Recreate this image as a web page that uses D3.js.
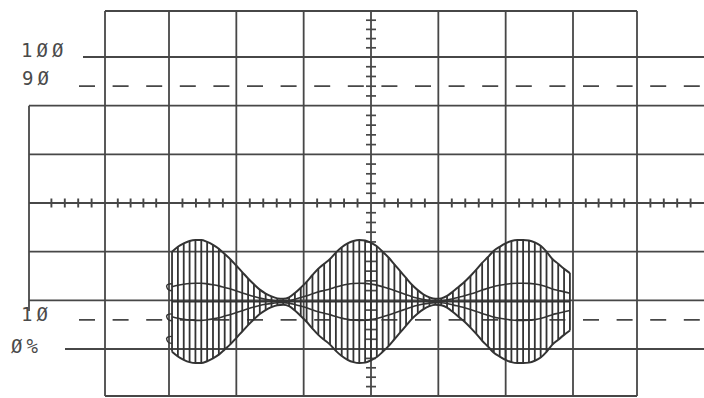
<!DOCTYPE html>
<html>
<head>
<meta charset="utf-8">
<script src="https://cdn.jsdelivr.net/npm/d3@7"></script>
<style>
  html, body { margin: 0; padding: 0; background: #ffffff; }
  svg { display: block; }
</style>
</head>
<body>
<svg id="chart" width="704" height="398"></svg>
<script>
// ---------------- data ----------------
// graticule: 8 x 8 divisions
const gridDivisionsX = [0, 1, 2, 3, 4, 5, 6, 7, 8];
const gridDivisionsY = [0, 1, 2, 3, 4, 5, 6, 7, 8];
// rise-time reference levels (percent of 6 divisions, 0% at division 1)
const levelLabels = ["1ØØ", "9Ø", "1Ø", "Ø%"];
const levelPercents = [100, 90, 10, 0];
const dashedPercents = [90, 10];
// AM trace: envelope half-amplitude (divisions) at each carrier stroke
const carrierStart = 1.045;   // division where the trace starts
const carrierStep = 0.0869;   // divisions between carrier strokes
const traceCenter = 1.97;     // vertical centre of the trace (divisions)
const innerFraction = 0.3;    // inner trace contour fraction
const envelopeAmp = [
  1.03, 1.13, 1.20, 1.25, 1.27, 1.27, 1.23, 1.17, 1.09, 0.98,
  0.87, 0.74, 0.61, 0.48, 0.36, 0.25, 0.17, 0.11, 0.07, 0.06,
  0.09, 0.18, 0.29, 0.41, 0.55, 0.68, 0.78, 0.88, 1.01, 1.12,
  1.20, 1.25, 1.27, 1.26, 1.21, 1.14, 1.03, 0.91, 0.77, 0.63,
  0.49, 0.35, 0.24, 0.15, 0.09, 0.06, 0.07, 0.12, 0.21, 0.31,
  0.41, 0.53, 0.66, 0.80, 0.92, 1.05, 1.13, 1.20, 1.25, 1.27,
  1.27, 1.26, 1.22, 1.15, 1.03, 0.88, 0.78, 0.68, 0.59
];

// ---------------- scales ----------------
const svg = d3.select("#chart");
const x = d3.scaleLinear().domain([0, 1, 7, 8]).range([105, 169, 573, 637]);
const y = d3.scaleLinear().domain([0, 1, 7, 8]).range([396, 349, 57, 11]);
const pct = p => 1 + p / 100 * 6;   // percent -> divisions

const ink = "#474747";
const lw = 1.8;
const g = svg.append("g");

// horizontal graticule lines
const hStart = d => {
  if (d === 0 || d === 8) return x(0);
  if (d === 7) return 83;
  if (d === 1) return 65;
  return 29;
};
const hEnd = d => (d === 0 || d === 8) ? x(8) : 704;
g.selectAll("line.h").data(gridDivisionsY).join("line")
  .attr("class", "h")
  .attr("x1", d => hStart(d)).attr("x2", d => hEnd(d))
  .attr("y1", d => y(d)).attr("y2", d => y(d))
  .attr("stroke", ink).attr("stroke-width", lw);

// vertical graticule lines
g.selectAll("line.v").data(gridDivisionsX).join("line")
  .attr("class", "v")
  .attr("x1", d => x(d)).attr("x2", d => x(d))
  .attr("y1", y(8)).attr("y2", y(0))
  .attr("stroke", ink).attr("stroke-width", lw);

// left auxiliary vertical line
g.append("line")
  .attr("x1", 29).attr("x2", 29)
  .attr("y1", y(6)).attr("y2", 311)
  .attr("stroke", ink).attr("stroke-width", lw);

// dashed 90% / 10% lines
g.selectAll("line.dash").data(dashedPercents).join("line")
  .attr("class", "dash")
  .attr("x1", 79).attr("x2", 704)
  .attr("y1", d => y(pct(d))).attr("y2", d => y(pct(d)))
  .attr("stroke", ink).attr("stroke-width", lw)
  .attr("stroke-dasharray", "16 17.6");

// minor ticks on centre horizontal axis (5 per division)
const hTicks = d3.range(-1.2, 9.05, 0.2).filter(v => Math.abs(v - Math.round(v)) > 0.01);
const hTickData = hTicks.map(v => ({ v, px: v < 0 ? x(0) + v * 67 : (v > 8 ? x(8) + (v - 8) * 67 : x(v)) }))
  .filter(d => d.px > 31 && d.px < 704);
g.selectAll("line.ht").data(hTickData).join("line")
  .attr("class", "ht")
  .attr("x1", d => d.px).attr("x2", d => d.px)
  .attr("y1", y(4) - 4.5).attr("y2", y(4) + 4.5)
  .attr("stroke", ink).attr("stroke-width", 1.9);

// minor ticks on centre vertical axis
const vTicks = d3.range(0.2, 7.9, 0.2).filter(v => Math.abs(v - Math.round(v)) > 0.01);
g.selectAll("line.vt").data(vTicks).join("line")
  .attr("class", "vt")
  .attr("x1", x(4) - 5).attr("x2", x(4) + 5)
  .attr("y1", d => y(d)).attr("y2", d => y(d))
  .attr("stroke", ink).attr("stroke-width", 1.7);

// level labels
g.selectAll("text.lbl").data(levelLabels).join("text")
  .attr("class", "lbl")
  .attr("x", (d, i) => [21, 22, 21, 11][i])
  .attr("y", (d, i) => y(pct(levelPercents[i])) + [0, -1, 1, 4][i])
  .attr("font-family", "DejaVu Sans Mono, monospace")
  .attr("font-size", 19)
  .attr("letter-spacing", 4)
  .attr("fill", "#4a4a4a")
  .text(d => d);

// ---------------- AM trace ----------------
const trace = envelopeAmp.map((a, i) => ({ t: carrierStart + i * carrierStep, a }));
const tg = svg.append("g");

// carrier strokes
tg.selectAll("line.s").data(trace).join("line")
  .attr("class", "s")
  .attr("x1", d => x(d.t)).attr("x2", d => x(d.t))
  .attr("y1", d => y(traceCenter + d.a)).attr("y2", d => y(traceCenter - d.a))
  .attr("stroke", "#333").attr("stroke-width", 1.8);

// envelope & inner contours
const contour = f => d3.line()
  .x(d => x(d.t)).y(d => y(traceCenter + f * d.a))
  .curve(d3.curveMonotoneX)(trace);
[1, -1].forEach(f => {
  tg.append("path").attr("d", contour(f))
    .attr("fill", "none").attr("stroke", "#333").attr("stroke-width", 2);
});
[innerFraction, -innerFraction, 0].forEach(f => {
  tg.append("path").attr("d", contour(f))
    .attr("fill", "none").attr("stroke", "#333").attr("stroke-width", 1.6);
});

// small start hooks at the left of the trace
const first = trace[0];
[innerFraction, -innerFraction, -0.75].forEach(f => {
  const cx = x(first.t), cy = y(traceCenter + f * first.a);
  const p = d3.path();
  p.moveTo(cx, cy - 3);
  p.quadraticCurveTo(cx - 7, cy - 3, cx - 5, cy + 1);
  p.quadraticCurveTo(cx - 4, cy + 4, cx, cy + 4);
  tg.append("path").attr("d", p.toString())
    .attr("fill", "none").attr("stroke", "#333").attr("stroke-width", 1.4);
});
</script>
</body>
</html>
